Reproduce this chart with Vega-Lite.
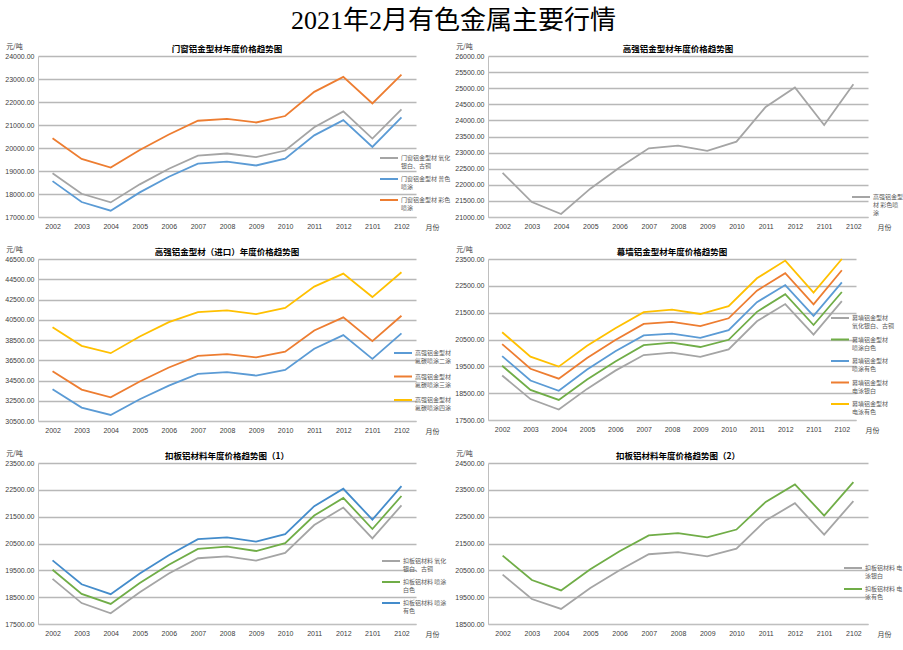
{
  "$schema": "https://vega.github.io/schema/vega-lite/v6.json",
  "background": "white",
  "padding": {"left": 4, "top": 8, "right": 2, "bottom": 2},
  "title": {"text": "2021年2月有色金属主要行情", "fontSize": 26, "font": "Liberation Serif, Noto Sans CJK SC", "fontWeight": "normal", "color": "#000000", "anchor": "start", "frame": "group", "dx": 253, "offset": 8},
  "columns": 2,
  "spacing": {"column": 72, "row": 42},
  "bounds": "flush",
  "resolve": {"scale": {"x": "independent", "y": "independent", "color": "independent"}, "axis": {"x": "independent", "y": "independent"}, "legend": {"color": "independent"}},
  "concat": [
    {
      "width": 378, "height": 161,
      "title": {"text": "门窗铝金型材年度价格趋势图"},
      "data": {"values": [
        {"m": "2002", "门窗铝金型材 氧化银白、古铜": 18905, "门窗铝金型材 普色喷涂": 18560, "门窗铝金型材 彩色喷涂": 20420},
        {"m": "2003", "门窗铝金型材 氧化银白、古铜": 18010, "门窗铝金型材 普色喷涂": 17650, "门窗铝金型材 彩色喷涂": 19525},
        {"m": "2004", "门窗铝金型材 氧化银白、古铜": 17635, "门窗铝金型材 普色喷涂": 17275, "门窗铝金型材 彩色喷涂": 19150},
        {"m": "2005", "门窗铝金型材 氧化银白、古铜": 18420, "门窗铝金型材 普色喷涂": 18070, "门窗铝金型材 彩色喷涂": 19915},
        {"m": "2006", "门窗铝金型材 氧化银白、古铜": 19100, "门窗铝金型材 普色喷涂": 18750, "门窗铝金型材 彩色喷涂": 20590},
        {"m": "2007", "门窗铝金型材 氧化银白、古铜": 19670, "门窗铝金型材 普色喷涂": 19320, "门窗铝金型材 彩色喷涂": 21185},
        {"m": "2008", "门窗铝金型材 氧化银白、古铜": 19760, "门窗铝金型材 普色喷涂": 19410, "门窗铝金型材 彩色喷涂": 21270},
        {"m": "2009", "门窗铝金型材 氧化银白、古铜": 19600, "门窗铝金型材 普色喷涂": 19240, "门窗铝金型材 彩色喷涂": 21110},
        {"m": "2010", "门窗铝金型材 氧化银白、古铜": 19890, "门窗铝金型材 普色喷涂": 19540, "门窗铝金型材 彩色喷涂": 21390},
        {"m": "2011", "门窗铝金型材 氧化银白、古铜": 20900, "门窗铝金型材 普色喷涂": 20550, "门窗铝金型材 彩色喷涂": 22440},
        {"m": "2012", "门窗铝金型材 氧化银白、古铜": 21590, "门窗铝金型材 普色喷涂": 21210, "门窗铝金型材 彩色喷涂": 23090},
        {"m": "2101", "门窗铝金型材 氧化银白、古铜": 20410, "门窗铝金型材 普色喷涂": 20045, "门窗铝金型材 彩色喷涂": 21935},
        {"m": "2102", "门窗铝金型材 氧化银白、古铜": 21680, "门窗铝金型材 普色喷涂": 21330, "门窗铝金型材 彩色喷涂": 23190}
      ]},
      "transform": [{"fold": ["门窗铝金型材 氧化银白、古铜", "门窗铝金型材 普色喷涂", "门窗铝金型材 彩色喷涂"], "as": ["s", "v"]}],
      "mark": {"type": "line", "strokeWidth": 1.8},
      "encoding": {
        "x": {"field": "m", "type": "ordinal", "scale": {"type": "point", "padding": 0.5}, "axis": {"title": "月份", "titleX": 394}},
        "y": {"field": "v", "type": "quantitative", "scale": {"domain": [17000, 24000], "nice": false, "zero": false}, "axis": {"title": "元/吨", "values": [17000, 18000, 19000, 20000, 21000, 22000, 23000, 24000], "format": ".2f"}},
        "color": {"field": "s", "type": "nominal",
          "scale": {"domain": ["门窗铝金型材 氧化银白、古铜", "门窗铝金型材 普色喷涂", "门窗铝金型材 彩色喷涂"], "range": ["#A5A5A5", "#5B9BD5", "#ED7D31"]},
          "legend": {"title": null, "orient": "none", "legendX": 341, "legendY": 92, "rowPadding": 0, "labelExpr": "[slice(datum.label,0,9), slice(datum.label,9)]"}}
      }
    },
    {
      "width": 380, "height": 161,
      "title": {"text": "高强铝金型材年度价格趋势图"},
      "data": {"values": [
        {"m": "2002", "高强铝金型材 彩色喷涂": 22371},
        {"m": "2003", "高强铝金型材 彩色喷涂": 21464},
        {"m": "2004", "高强铝金型材 彩色喷涂": 21093},
        {"m": "2005", "高强铝金型材 彩色喷涂": 21880},
        {"m": "2006", "高强铝金型材 彩色喷涂": 22540},
        {"m": "2007", "高强铝金型材 彩色喷涂": 23134},
        {"m": "2008", "高强铝金型材 彩色喷涂": 23216},
        {"m": "2009", "高强铝金型材 彩色喷涂": 23052},
        {"m": "2010", "高强铝金型材 彩色喷涂": 23340},
        {"m": "2011", "高强铝金型材 彩色喷涂": 24420},
        {"m": "2012", "高强铝金型材 彩色喷涂": 25021},
        {"m": "2101", "高强铝金型材 彩色喷涂": 23856},
        {"m": "2102", "高强铝金型材 彩色喷涂": 25124}
      ]},
      "transform": [{"fold": ["高强铝金型材 彩色喷涂"], "as": ["s", "v"]}],
      "mark": {"type": "line", "strokeWidth": 1.8},
      "encoding": {
        "x": {"field": "m", "type": "ordinal", "scale": {"type": "point", "padding": 0.5}, "axis": {"title": "月份", "titleX": 396}},
        "y": {"field": "v", "type": "quantitative", "scale": {"domain": [21000, 26000], "nice": false, "zero": false}, "axis": {"title": "元/吨", "values": [21000, 21500, 22000, 22500, 23000, 23500, 24000, 24500, 25000, 25500, 26000], "format": ".2f"}},
        "color": {"field": "s", "type": "nominal",
          "scale": {"domain": ["高强铝金型材 彩色喷涂"], "range": ["#A5A5A5"]},
          "legend": {"title": null, "orient": "none", "legendX": 363, "legendY": 131, "labelExpr": "[slice(datum.label,0,5), slice(datum.label,5,10), slice(datum.label,10)]"}}
      }
    },
    {
      "width": 378, "height": 162,
      "title": {"text": "高强铝金型材（进口）年度价格趋势图"},
      "data": {"values": [
        {"m": "2002", "高强铝金型材 氟碳喷涂二涂": 33640, "高强铝金型材 氟碳喷涂三涂": 35420, "高强铝金型材 氟碳喷涂四涂": 39770},
        {"m": "2003", "高强铝金型材 氟碳喷涂二涂": 31820, "高强铝金型材 氟碳喷涂三涂": 33600, "高强铝金型材 氟碳喷涂四涂": 37925},
        {"m": "2004", "高强铝金型材 氟碳喷涂二涂": 31100, "高强铝金型材 氟碳喷涂三涂": 32840, "高强铝金型材 氟碳喷涂四涂": 37200},
        {"m": "2005", "高强铝金型材 氟碳喷涂二涂": 32650, "高强铝金型材 氟碳喷涂三涂": 34400, "高强铝金型材 氟碳喷涂四涂": 38850},
        {"m": "2006", "高强铝金型材 氟碳喷涂二涂": 34000, "高强铝金型材 氟碳喷涂三涂": 35780, "高强铝金型材 氟碳喷涂四涂": 40270},
        {"m": "2007", "高强铝金型材 氟碳喷涂二涂": 35160, "高强铝金型材 氟碳喷涂三涂": 36940, "高强铝金型材 氟碳喷涂四涂": 41260},
        {"m": "2008", "高强铝金型材 氟碳喷涂二涂": 35320, "高强铝金型材 氟碳喷涂三涂": 37100, "高强铝金型材 氟碳喷涂四涂": 41420},
        {"m": "2009", "高强铝金型材 氟碳喷涂二涂": 34990, "高强铝金型材 氟碳喷涂三涂": 36780, "高强铝金型材 氟碳喷涂四涂": 41060},
        {"m": "2010", "高强铝金型材 氟碳喷涂二涂": 35550, "高强铝金型材 氟碳喷涂三涂": 37340, "高强铝金型材 氟碳喷涂四涂": 41660},
        {"m": "2011", "高强铝金型材 氟碳喷涂二涂": 37630, "高强铝金型材 氟碳喷涂三涂": 39440, "高强铝金型材 氟碳喷涂四涂": 43770},
        {"m": "2012", "高强铝金型材 氟碳喷涂二涂": 38980, "高强铝金型材 氟碳喷涂三涂": 40740, "高强铝金型材 氟碳喷涂四涂": 45060},
        {"m": "2101", "高强铝金型材 氟碳喷涂二涂": 36640, "高强铝金型材 氟碳喷涂三涂": 38390, "高强铝金型材 氟碳喷涂四涂": 42740},
        {"m": "2102", "高强铝金型材 氟碳喷涂二涂": 39150, "高强铝金型材 氟碳喷涂三涂": 40900, "高强铝金型材 氟碳喷涂四涂": 45190}
      ]},
      "transform": [{"fold": ["高强铝金型材 氟碳喷涂二涂", "高强铝金型材 氟碳喷涂三涂", "高强铝金型材 氟碳喷涂四涂"], "as": ["s", "v"]}],
      "mark": {"type": "line", "strokeWidth": 1.8},
      "encoding": {
        "x": {"field": "m", "type": "ordinal", "scale": {"type": "point", "padding": 0.5}, "axis": {"title": "月份", "titleX": 394}},
        "y": {"field": "v", "type": "quantitative", "scale": {"domain": [30500, 46500], "nice": false, "zero": false}, "axis": {"title": "元/吨", "values": [30500, 32500, 34500, 36500, 38500, 40500, 42500, 44500, 46500], "format": ".2f"}},
        "color": {"field": "s", "type": "nominal",
          "scale": {"domain": ["高强铝金型材 氟碳喷涂二涂", "高强铝金型材 氟碳喷涂三涂", "高强铝金型材 氟碳喷涂四涂"], "range": ["#5B9BD5", "#ED7D31", "#FFC000"]},
          "legend": {"title": null, "orient": "none", "legendX": 355, "legendY": 84, "rowPadding": 2.5, "labelExpr": "[slice(datum.label,0,6), slice(datum.label,7)]"}}
      }
    },
    {
      "width": 368, "height": 161,
      "title": {"text": "幕墙铝金型材年度价格趋势图"},
      "data": {"values": [
        {"m": "2002", "幕墙铝金型材 氧化银白、古铜": 19160, "幕墙铝金型材 喷涂白色": 19520, "幕墙铝金型材 喷涂有色": 19880, "幕墙铝金型材 电泳银白": 20330, "幕墙铝金型材 电泳有色": 20770},
        {"m": "2003", "幕墙铝金型材 氧化银白、古铜": 18280, "幕墙铝金型材 喷涂白色": 18620, "幕墙铝金型材 喷涂有色": 18970, "幕墙铝金型材 电泳银白": 19410, "幕墙铝金型材 电泳有色": 19860},
        {"m": "2004", "幕墙铝金型材 氧化银白、古铜": 17890, "幕墙铝金型材 喷涂白色": 18250, "幕墙铝金型材 喷涂有色": 18590, "幕墙铝金型材 电泳银白": 19040, "幕墙铝金型材 电泳有色": 19490},
        {"m": "2005", "幕墙铝金型材 氧化银白、古铜": 18660, "幕墙铝金型材 喷涂白色": 19010, "幕墙铝金型材 喷涂有色": 19380, "幕墙铝金型材 电泳银白": 19810, "幕墙铝金型材 电泳有色": 20270},
        {"m": "2006", "幕墙铝金型材 氧化银白、古铜": 19340, "幕墙铝金型材 喷涂白色": 19680, "幕墙铝金型材 喷涂有色": 20060, "幕墙铝金型材 电泳银白": 20480, "幕墙铝金型材 电泳有色": 20920},
        {"m": "2007", "幕墙铝金型材 氧化银白、古铜": 19920, "幕墙铝金型材 喷涂白色": 20290, "幕墙铝金型材 喷涂有色": 20650, "幕墙铝金型材 电泳银白": 21080, "幕墙铝金型材 电泳有色": 21520},
        {"m": "2008", "幕墙铝金型材 氧化银白、古铜": 20010, "幕墙铝金型材 喷涂白色": 20380, "幕墙铝金型材 喷涂有色": 20720, "幕墙铝金型材 电泳银白": 21160, "幕墙铝金型材 电泳有色": 21610},
        {"m": "2009", "幕墙铝金型材 氧化银白、古铜": 19850, "幕墙铝金型材 喷涂白色": 20220, "幕墙铝金型材 喷涂有色": 20560, "幕墙铝金型材 电泳银白": 21000, "幕墙铝金型材 电泳有色": 21450},
        {"m": "2010", "幕墙铝金型材 氧化银白、古铜": 20130, "幕墙铝金型材 喷涂白色": 20490, "幕墙铝金型材 喷涂有色": 20850, "幕墙铝金型材 电泳银白": 21290, "幕墙铝金型材 电泳有色": 21740},
        {"m": "2011", "幕墙铝金型材 氧化银白、古铜": 21180, "幕墙铝金型材 喷涂白色": 21530, "幕墙铝金型材 喷涂有色": 21890, "幕墙铝金型材 电泳银白": 22320, "幕墙铝金型材 电泳有色": 22780},
        {"m": "2012", "幕墙铝金型材 氧化银白、古铜": 21820, "幕墙铝金型材 喷涂白色": 22190, "幕墙铝金型材 喷涂有色": 22530, "幕墙铝金型材 电泳银白": 22970, "幕墙铝金型材 电泳有色": 23440},
        {"m": "2101", "幕墙铝金型材 氧化银白、古铜": 20680, "幕墙铝金型材 喷涂白色": 21040, "幕墙铝金型材 喷涂有色": 21380, "幕墙铝金型材 电泳银白": 21810, "幕墙铝金型材 电泳有色": 22250},
        {"m": "2102", "幕墙铝金型材 氧化银白、古铜": 21930, "幕墙铝金型材 喷涂白色": 22270, "幕墙铝金型材 喷涂有色": 22630, "幕墙铝金型材 电泳银白": 23080, "幕墙铝金型材 电泳有色": 23500}
      ]},
      "transform": [{"fold": ["幕墙铝金型材 氧化银白、古铜", "幕墙铝金型材 喷涂白色", "幕墙铝金型材 喷涂有色", "幕墙铝金型材 电泳银白", "幕墙铝金型材 电泳有色"], "as": ["s", "v"]}],
      "mark": {"type": "line", "strokeWidth": 1.8},
      "encoding": {
        "x": {"field": "m", "type": "ordinal", "scale": {"type": "point", "padding": 0.5}, "axis": {"title": "月份", "titleX": 384}},
        "y": {"field": "v", "type": "quantitative", "scale": {"domain": [17500, 23500], "nice": false, "zero": false}, "axis": {"title": "元/吨", "values": [17500, 18500, 19500, 20500, 21500, 22500, 23500], "format": ".2f"}},
        "color": {"field": "s", "type": "nominal",
          "scale": {"domain": ["幕墙铝金型材 氧化银白、古铜", "幕墙铝金型材 喷涂白色", "幕墙铝金型材 喷涂有色", "幕墙铝金型材 电泳银白", "幕墙铝金型材 电泳有色"], "range": ["#A5A5A5", "#70AD47", "#5B9BD5", "#ED7D31", "#FFC000"]},
          "legend": {"title": null, "orient": "none", "legendX": 342, "legendY": 49, "rowPadding": 0.5, "labelExpr": "[slice(datum.label,0,6), slice(datum.label,7)]"}}
      }
    },
    {
      "width": 378, "height": 161,
      "title": {"text": "扣板铝材料年度价格趋势图（1）"},
      "data": {"values": [
        {"m": "2002", "扣板铝材料 氧化银白、古铜": 19180, "扣板铝材料 喷涂白色": 19520, "扣板铝材料 喷涂有色": 19870},
        {"m": "2003", "扣板铝材料 氧化银白、古铜": 18280, "扣板铝材料 喷涂白色": 18620, "扣板铝材料 喷涂有色": 18980},
        {"m": "2004", "扣板铝材料 氧化银白、古铜": 17900, "扣板铝材料 喷涂白色": 18250, "扣板铝材料 喷涂有色": 18610},
        {"m": "2005", "扣板铝材料 氧化银白、古铜": 18680, "扣板铝材料 喷涂白色": 19030, "扣板铝材料 喷涂有色": 19380},
        {"m": "2006", "扣板铝材料 氧化银白、古铜": 19380, "扣板铝材料 喷涂白色": 19710, "扣板铝材料 喷涂有色": 20060},
        {"m": "2007", "扣板铝材料 氧化银白、古铜": 19950, "扣板铝材料 喷涂白色": 20300, "扣板铝材料 喷涂有色": 20660},
        {"m": "2008", "扣板铝材料 氧化银白、古铜": 20020, "扣板铝材料 喷涂白色": 20380, "扣板铝材料 喷涂有色": 20730},
        {"m": "2009", "扣板铝材料 氧化银白、古铜": 19860, "扣板铝材料 喷涂白色": 20220, "扣板铝材料 喷涂有色": 20570},
        {"m": "2010", "扣板铝材料 氧化银白、古铜": 20150, "扣板铝材料 喷涂白色": 20510, "扣板铝材料 喷涂有色": 20850},
        {"m": "2011", "扣板铝材料 氧化银白、古铜": 21190, "扣板铝材料 喷涂白色": 21540, "扣板铝材料 喷涂有色": 21890},
        {"m": "2012", "扣板铝材料 氧化银白、古铜": 21840, "扣板铝材料 喷涂白色": 22200, "扣板铝材料 喷涂有色": 22540},
        {"m": "2101", "扣板铝材料 氧化银白、古铜": 20690, "扣板铝材料 喷涂白色": 21040, "扣板铝材料 喷涂有色": 21390},
        {"m": "2102", "扣板铝材料 氧化银白、古铜": 21920, "扣板铝材料 喷涂白色": 22270, "扣板铝材料 喷涂有色": 22640}
      ]},
      "transform": [{"fold": ["扣板铝材料 氧化银白、古铜", "扣板铝材料 喷涂白色", "扣板铝材料 喷涂有色"], "as": ["s", "v"]}],
      "mark": {"type": "line", "strokeWidth": 1.8},
      "encoding": {
        "x": {"field": "m", "type": "ordinal", "scale": {"type": "point", "padding": 0.5}, "axis": {"title": "月份", "titleX": 394}},
        "y": {"field": "v", "type": "quantitative", "scale": {"domain": [17500, 23500], "nice": false, "zero": false}, "axis": {"title": "元/吨", "values": [17500, 18500, 19500, 20500, 21500, 22500, 23500], "format": ".2f"}},
        "color": {"field": "s", "type": "nominal",
          "scale": {"domain": ["扣板铝材料 氧化银白、古铜", "扣板铝材料 喷涂白色", "扣板铝材料 喷涂有色"], "range": ["#A5A5A5", "#70AD47", "#448CCB"]},
          "legend": {"title": null, "orient": "none", "legendX": 343, "legendY": 88, "rowPadding": -3.5, "labelExpr": "[slice(datum.label,0,8), slice(datum.label,8)]"}}
      }
    },
    {
      "width": 380, "height": 161,
      "title": {"text": "扣板铝材料年度价格趋势图（2）"},
      "data": {"values": [
        {"m": "2002", "扣板铝材料 电泳银白": 20340, "扣板铝材料 电泳有色": 21050},
        {"m": "2003", "扣板铝材料 电泳银白": 19430, "扣板铝材料 电泳有色": 20140},
        {"m": "2004", "扣板铝材料 电泳银白": 19060, "扣板铝材料 电泳有色": 19750},
        {"m": "2005", "扣板铝材料 电泳银白": 19840, "扣板铝材料 电泳有色": 20540},
        {"m": "2006", "扣板铝材料 电泳银白": 20500, "扣板铝材料 电泳有色": 21210},
        {"m": "2007", "扣板铝材料 电泳银白": 21100, "扣板铝材料 电泳有色": 21800},
        {"m": "2008", "扣板铝材料 电泳银白": 21180, "扣板铝材料 电泳有色": 21890},
        {"m": "2009", "扣板铝材料 电泳银白": 21020, "扣板铝材料 电泳有色": 21730},
        {"m": "2010", "扣板铝材料 电泳银白": 21310, "扣板铝材料 电泳有色": 22020},
        {"m": "2011", "扣板铝材料 电泳银白": 22360, "扣板铝材料 电泳有色": 23050},
        {"m": "2012", "扣板铝材料 电泳银白": 23000, "扣板铝材料 电泳有色": 23700},
        {"m": "2101", "扣板铝材料 电泳银白": 21830, "扣板铝材料 电泳有色": 22540},
        {"m": "2102", "扣板铝材料 电泳银白": 23080, "扣板铝材料 电泳有色": 23790}
      ]},
      "transform": [{"fold": ["扣板铝材料 电泳银白", "扣板铝材料 电泳有色"], "as": ["s", "v"]}],
      "mark": {"type": "line", "strokeWidth": 1.8},
      "encoding": {
        "x": {"field": "m", "type": "ordinal", "scale": {"type": "point", "padding": 0.5}, "axis": {"title": "月份", "titleX": 396}},
        "y": {"field": "v", "type": "quantitative", "scale": {"domain": [18500, 24500], "nice": false, "zero": false}, "axis": {"title": "元/吨", "values": [18500, 19500, 20500, 21500, 22500, 23500, 24500], "format": ".2f"}},
        "color": {"field": "s", "type": "nominal",
          "scale": {"domain": ["扣板铝材料 电泳银白", "扣板铝材料 电泳有色"], "range": ["#A5A5A5", "#70AD47"]},
          "legend": {"title": null, "orient": "none", "legendX": 355, "legendY": 95, "rowPadding": -3.4, "labelExpr": "[slice(datum.label,0,7), slice(datum.label,7)]"}}
      }
    }
  ],
  "config": {
    "view": {"stroke": null},
    "font": "Noto Sans CJK SC",
    "title": {"fontSize": 8.5, "fontWeight": "bold", "font": "Noto Sans CJK SC", "color": "#000000", "anchor": "middle", "frame": "group", "offset": -11},
    "axis": {"labelFont": "Liberation Sans", "labelFontSize": 7, "labelColor": "#404040", "titleFont": "Noto Sans CJK SC", "titleFontSize": 7, "titleFontWeight": "normal", "titleColor": "#404040", "domainColor": "#BFBFBF", "domainWidth": 1, "gridColor": "#B8B8B8", "gridWidth": 1.3, "ticks": false},
    "axisX": {"grid": false, "labelAngle": 0, "labelPadding": 5, "titleY": 10, "titleBaseline": "middle", "titleAlign": "center"},
    "axisY": {"grid": true, "labelPadding": 4, "titleAngle": 0, "titleX": -24, "titleY": -10, "titleAlign": "center", "titleBaseline": "middle"},
    "legend": {"symbolType": "stroke", "symbolSize": 324, "symbolStrokeWidth": 2, "labelFont": "Noto Sans CJK SC", "labelFontSize": 6, "labelColor": "#595959", "labelLimit": 200, "padding": 0, "labelOffset": 2}
  }
}
